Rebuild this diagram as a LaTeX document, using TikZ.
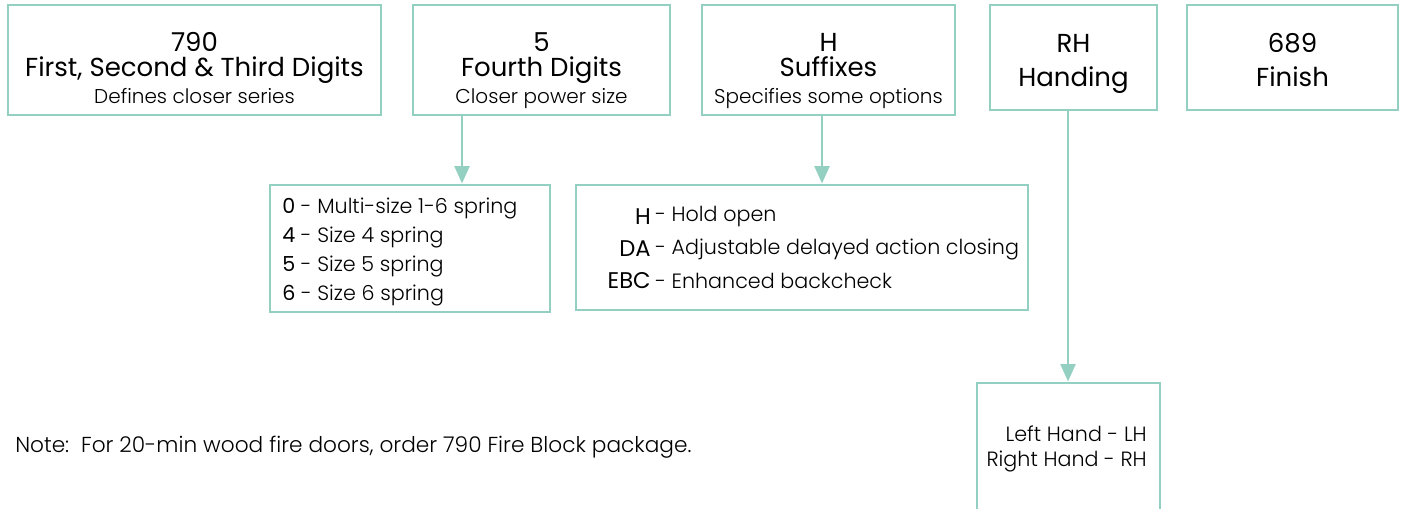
\documentclass[tikz,border=0pt]{standalone}
\usepackage{fontspec}
\setmainfont{Poppins Light}
\newfontfamily\codefont{Poppins}
\usetikzlibrary{arrows.meta}
\definecolor{mint}{HTML}{94D0C2}
\tikzstyle{code box}=[draw=mint,line width=2.2pt,inner sep=0pt]
\tikzstyle{code}=[font=\codefont\fontsize{19.5}{22}\selectfont,inner sep=0pt,anchor=base,text height=0.72em,text depth=0.1em]
\tikzstyle{hint}=[font=\fontsize{15}{17}\selectfont,inner sep=0pt,anchor=base,text height=0.72em,text depth=0.2em]
\tikzstyle{item}=[font=\fontsize{15.5}{17}\selectfont,inner sep=0pt]
\tikzstyle{link}=[draw=mint,line width=2.2pt,-{Triangle[width=11pt,length=13pt]}]

\begin{document}
\begin{tikzpicture}[x=0.75pt,y=-0.75pt]
    \useasboundingbox (0,0) rectangle (1401,508);
    \clip (0,0) rectangle (1401,508);
    % First the boxes of the model number
    \foreach \pos/\name/\w/\h in {{(194.5,60)/series/279.75/82.5}, {(541.5,60)/power/192.75/82.5},
        {(828.5,60)/suffix/189.75/82.5}, {(1073.5,57.5)/handing/125.25/78.75}, {(1292.5,57.5)/finish/158.25/78.75}}
        \node[code box,minimum width=\w pt,minimum height=\h pt] (\name) at \pos {};

    % Boxes with the choices
    \node[code box,minimum width=210pt,minimum height=95.25pt] (springs) at (410,248.5) {};
    \node[code box,minimum width=339pt,minimum height=93.75pt] (options) at (802,247.5) {};
    \node[code box,minimum width=137.25pt,minimum height=110.25pt] (hands) at (1068.5,456.5) {};

    % Texts of the model number
    \foreach \x/\name/\num/\title/\desc in {194.5/series/790/{First, Second \& Third Digits}/Defines closer series,
        541.5/power/5/Fourth Digits/Closer power size, 828.5/suffix/H/Suffixes/Specifies some options}
    {
        \node[code] (\name-num) at (\x,51) {\num};
        \node[code] (\name-title) at (\x,76) {\title};
        \node[hint] (\name-desc) at (\x,103) {\desc};
    }
    \foreach \x/\name/\num/\title in {1073.5/handing/RH/Handing, 1292.5/finish/689/Finish}
    {
        \node[code] (\name-num) at (\x,52) {\num};
        \node[code] (\name-title) at (\x,86) {\title};
    }

    % Spring sizes
    \foreach \y/\size/\desc in {208/0/Multi-size 1-6 spring, 237/4/Size 4 spring, 266/5/Size 5 spring, 295/6/Size 6 spring}
        \node[item,anchor=west] (size-\size) at (282,\y) {{\codefont\size} - \desc};

    % Suffix options
    \foreach \y/\opt/\desc in {217/H/Hold open, 249/DA/Adjustable delayed action closing, 281/EBC/Enhanced backcheck}
    {
        \node[item,anchor=east,font=\codefont\fontsize{17}{19}\selectfont] (opt-\opt) at (651,\y) {\opt};
        \node[item,anchor=west,inner xsep=3pt] (desc-\opt) at (651,\y) {- \desc};
    }

    % Handing
    \node[item,anchor=east] (left-hand) at (1147,434) {Left Hand - LH};
    \node[item,anchor=east] (right-hand) at (1147,461) {Right Hand - RH};

    % Note
    \node[item,anchor=west,font=\fontsize{16.25}{18}\selectfont] (note) at (15,447) {Note:\ \ For 20-min wood fire doors, order 790 Fire Block package.};

    % Connect boxes with arrows
    \coordinate (power-out) at (462,115);
    \coordinate (suffix-out) at (822,115);
    \coordinate (handing-out) at (1068,110);
    \foreach \source/\dest in {power-out/springs, suffix-out/options, handing-out/hands}
        \path[link] (\source) -- (\source |- \dest.north);
\end{tikzpicture}
\end{document}
